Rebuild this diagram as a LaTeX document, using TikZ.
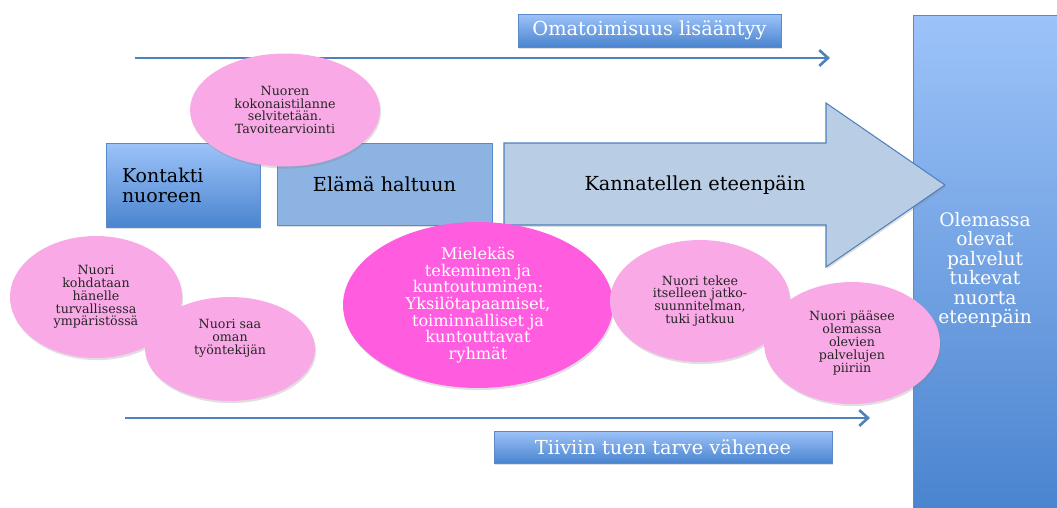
\documentclass[tikz,border=0pt]{standalone}
\usepackage{fontspec}
\setmainfont{DejaVu Serif}
\usetikzlibrary{shapes.geometric, shadows, arrows.meta}

\definecolor{lightpink}{HTML}{F9AAE6}
\definecolor{hotpink}{HTML}{FF5CE0}
\definecolor{boxtop}{HTML}{9DC3F9}
\definecolor{boxbottom}{HTML}{4A84CF}
\definecolor{boxline}{HTML}{5B8ACB}
\definecolor{midblue}{HTML}{8DB3E2}
\definecolor{paleblue}{HTML}{B9CDE5}
\definecolor{lineblue}{HTML}{4F81BD}

\begin{document}
\begin{tikzpicture}[x=0.02cm, y=-0.02cm]
    % Define styles
    \tikzset{
        softshadow/.style={drop shadow={opacity=0.25, shadow xshift=0.6pt, shadow yshift=-1.2pt}},
        gradbox/.style={rectangle, draw=boxline, line width=0.5pt, top color=boxtop, bottom color=boxbottom, softshadow},
        bubble/.style={ellipse, fill=lightpink, inner sep=0pt, align=center, text=black!85, font=\fontsize{7.2}{7.3}\selectfont, softshadow},
        progress/.style={draw=lineblue, line width=1.5pt, -{Straight Barb[length=5pt, width=9pt, line width=1.5pt]}}
    }
    \useasboundingbox (0,0) rectangle (1057,507);

    % RIGHT COLUMN
    \node[gradbox, minimum width=2.98cm, minimum height=9.9cm, anchor=north west] (palvelut) at (913,15) {};
    \node[text=white, align=center, font=\fontsize{10.6}{11.1}\selectfont] (palvelutext) at (985,270)
        {Olemassa\\olevat\\palvelut\\tukevat\\nuorta\\eteenpäin};

    % Big arrow
    \coordinate (a1) at (504,143);
    \coordinate (a2) at (826,143);
    \coordinate (a3) at (826,103);
    \coordinate (tip) at (945,185);
    \coordinate (a4) at (826,267);
    \coordinate (a5) at (826,225);
    \coordinate (a6) at (504,225);
    \draw[fill=paleblue, draw=lineblue, line width=0.6pt, softshadow]
        (a1) -- (a2) -- (a3) -- (tip) -- (a4) -- (a5) -- (a6) -- cycle;
    \node[font=\fontsize{11}{12}\selectfont] (kannatellen) at (695,185) {Kannatellen eteenpäin};

    % Phase boxes
    \node[gradbox, minimum width=3.08cm, minimum height=1.68cm, text width=2.44cm, inner xsep=0.32cm,
          align=left, font=\fontsize{10.8}{11.3}\selectfont] (kontakti) at (183,185) {Kontakti\\nuoreen};
    \node[rectangle, draw=boxline, line width=0.5pt, fill=midblue, minimum width=4.3cm, minimum height=1.64cm,
          font=\fontsize{11}{12}\selectfont, softshadow] (elama) at (384.5,184) {Elämä haltuun};

    % Progress lines
    \coordinate (top_start) at (135,58);
    \coordinate (top_end) at (830,58);
    \coordinate (bot_start) at (125,418);
    \coordinate (bot_end) at (870,418);
    \draw[progress] (top_start) -- (top_end);
    \draw[progress] (bot_start) -- (bot_end);

    % Line labels
    \node[gradbox, minimum width=5.26cm, minimum height=0.66cm, text=white,
          font=\fontsize{11}{12}\selectfont] (omatoimisuus) at (649.5,30.5) {Omatoimisuus lisääntyy};
    \node[gradbox, minimum width=6.76cm, minimum height=0.64cm, text=white,
          font=\fontsize{11}{12}\selectfont] (tiivis) at (663,447) {Tiiviin tuen tarve vähenee};

    % Bubbles
    \node[bubble, minimum width=3.8cm, minimum height=2.26cm] (kokonais) at (285,110)
        {Nuoren\\kokonaistilanne\\selvitetään.\\Tavoitearviointi};
    \node[bubble, minimum width=3.44cm, minimum height=2.44cm] (kohdataan) at (96,297)
        {Nuori\\kohdataan\\hänelle\\turvallisessa\\ympäristössä};
    \node[bubble, minimum width=3.4cm, minimum height=2.08cm,
          label={[font=\fontsize{7.2}{7.3}\selectfont, align=center, text=black!85, yshift=0.22cm]center:{Nuori saa\\oman\\työntekijän}}]
        (tyontekija) at (230,349) {};
    \node[bubble, fill=hotpink, text=white, minimum width=5.4cm, minimum height=3.32cm,
          font=\fontsize{9.2}{9.5}\selectfont] (mielekas) at (478,305)
        {Mielekäs\\tekeminen ja\\kuntoutuminen:\\Yksilötapaamiset,\\toiminnalliset ja\\kuntouttavat\\ryhmät};
    \node[bubble, minimum width=3.6cm, minimum height=2.44cm] (jatko) at (700,301)
        {Nuori tekee\\itselleen jatko-\\suunnitelman,\\tuki jatkuu};
    \node[bubble, minimum width=3.52cm, minimum height=2.44cm] (piiriin) at (852,343)
        {Nuori pääsee\\olemassa\\olevien\\palvelujen\\piiriin};

\end{tikzpicture}
\end{document}
